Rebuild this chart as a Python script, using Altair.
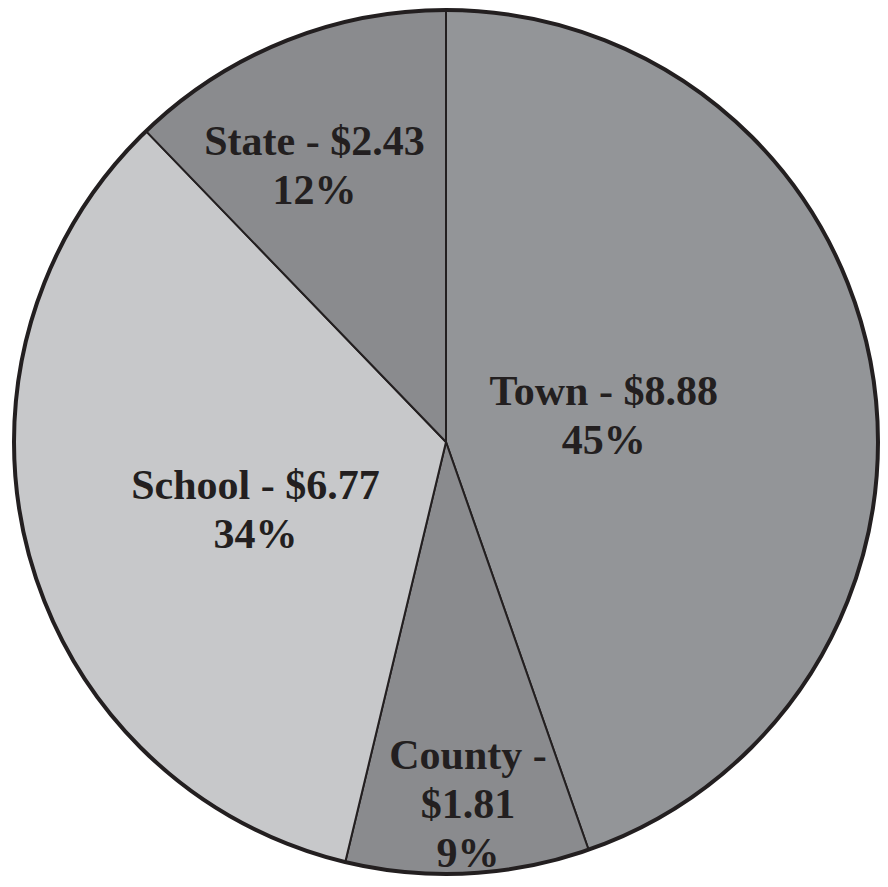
import altair as alt
import pandas as pd

# ---- data ----
names = ["Town", "County", "School", "State"]
values = [8.88, 1.81, 6.77, 2.43]
label_texts = ["Town - $8.88\n45%", "County -\n$1.81\n9%", "School - $6.77\n34%", "State - $2.43\n12%"]

# ---- styling ----
colors = ["#939598", "#8a8b8e", "#c7c8ca", "#8a8b8e"]
label_radius = [162, 328, 199, 316]      # px from centre
label_adjust = [-3.55, -0.95, -1.5, -2.6]  # degrees off the slice middle
R = 432
CX, CY = 438, 434
INK = "#231f20"

df = pd.DataFrame({
    "name": names,
    "value": values,
    "order": list(range(len(names))),
    "label": label_texts,
    "lr": label_radius,
    "adj": label_adjust,
})

color = alt.Color("name:N", scale=alt.Scale(domain=names, range=colors), legend=None)

pie = alt.Chart(df).mark_arc(radius=R, stroke=INK, strokeWidth=2).encode(
    theta=alt.Theta("value:Q", stack=True),
    order=alt.Order("order:Q"),
    color=color,
    x=alt.value(CX),
    y=alt.value(CY),
)

ring = alt.Chart(pd.DataFrame({"v": [1]})).mark_point(
    shape="circle", filled=False, size=(2 * R) ** 2, stroke=INK, strokeWidth=4, opacity=1
).encode(x=alt.value(CX), y=alt.value(CY))

labels = alt.Chart(df).transform_joinaggregate(
    total="sum(value)"
).transform_window(
    cum="sum(value)", sort=[alt.SortField("order")]
).transform_calculate(
    mid="(datum.cum - datum.value/2) / datum.total * 2 * PI + datum.adj * PI / 180"
).mark_text(
    font="Liberation Serif", fontWeight="bold", fontSize=42, color=INK,
    align="center", baseline="alphabetic", lineBreak="\n", lineHeight=49,
).encode(
    theta=alt.Theta("mid:Q", scale=None),
    radius=alt.Radius("lr:Q", scale=None),
    text="label:N",
    x=alt.value(CX),
    y=alt.value(CY),
)

chart = alt.layer(pie, ring, labels).properties(
    width=872, height=871, padding=0, autosize=alt.AutoSizeParams(type="none"),
    background="white",
).configure_view(stroke=None)

chart.save("out.html", embed_options={"renderer": "svg", "actions": False})
